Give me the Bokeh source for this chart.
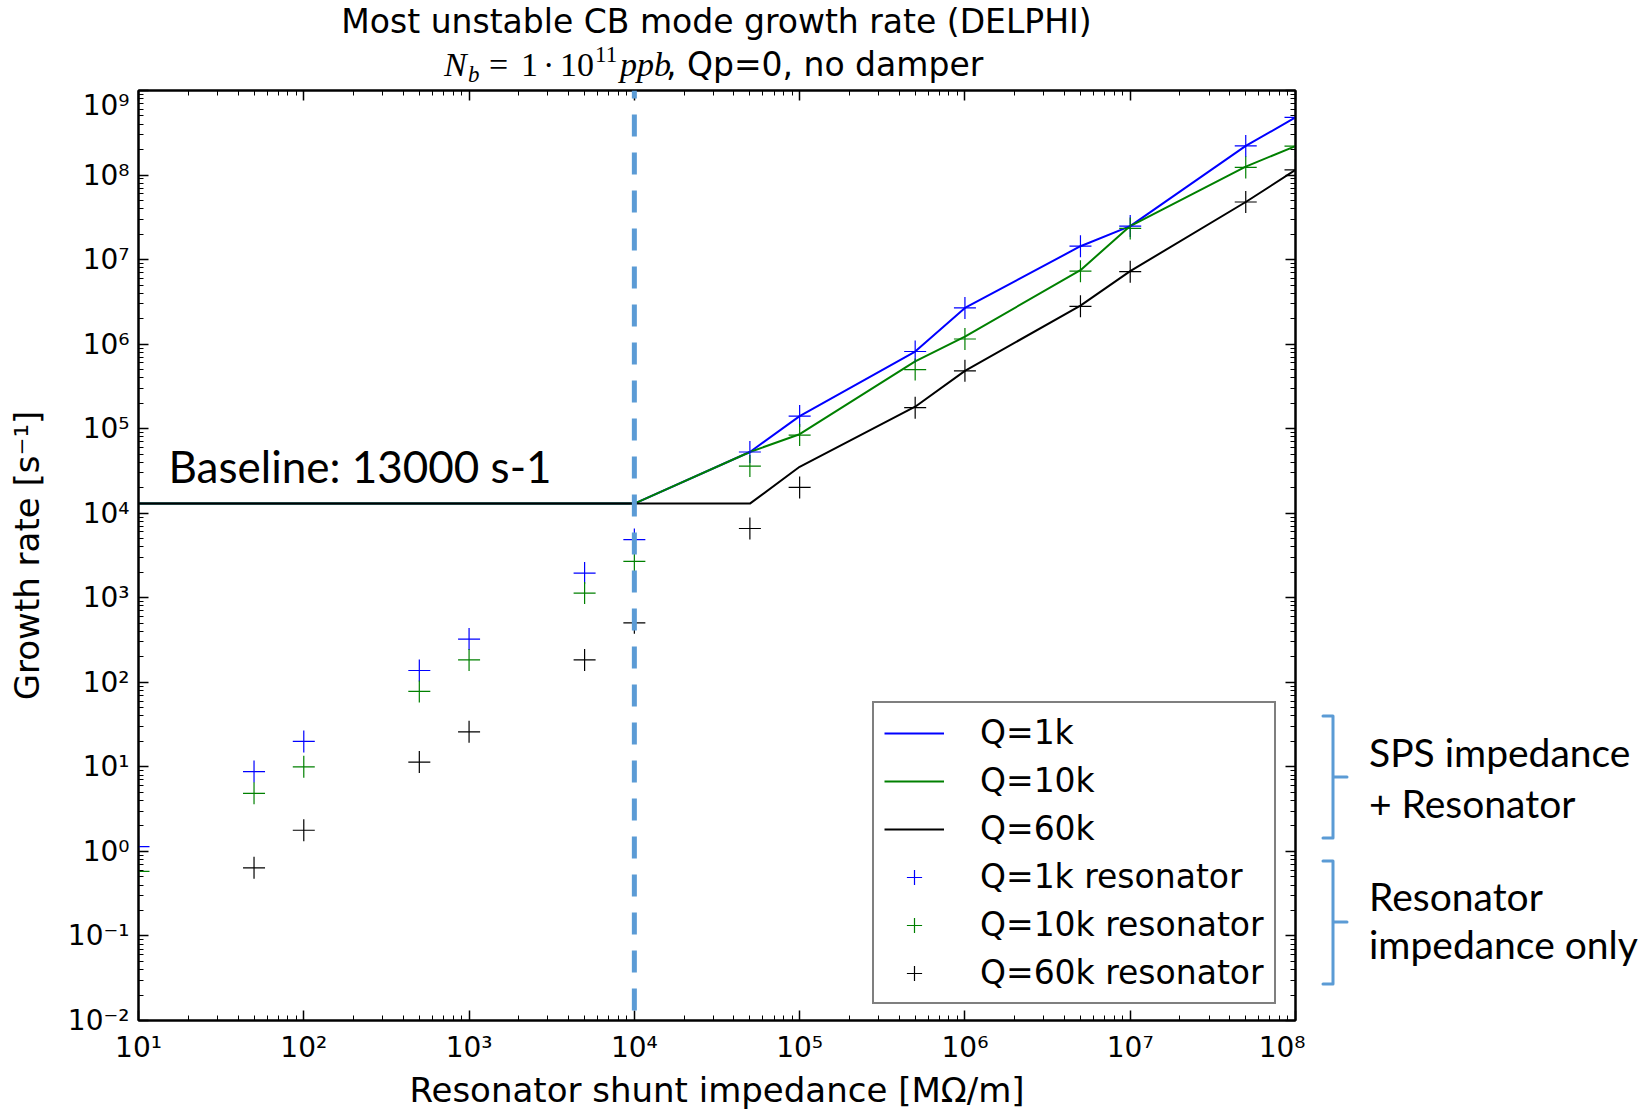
from bokeh.plotting import figure
from bokeh.models import (Range1d, FixedTicker, LogAxis, CustomJSTickFormatter,
                          Legend, LegendItem, Span, Label, Div)
from bokeh.layouts import column, row
from bokeh.embed import file_html
from bokeh.resources import INLINE

# ---------------- data ----------------
shunt_impedance = [10, 50, 100, 500, 1000, 5000, 1e4, 5e4, 1e5, 5e5, 1e6, 5e6, 1e7, 5e7, 1e8]
shunt_impedance_q60k_res = [50, 100, 500, 1000, 5000, 1e4, 5e4, 1e5, 5e5, 1e6, 5e6, 1e7, 5e7, 1e8]

# SPS impedance + resonator (lines)
sps_q1k = [13000, 13000, 13000, 13000, 13000, 13000, 13000,
           53000, 141000, 818000, 2.68e6, 1.44e7, 2.49e7, 2.21e8, 4.8e8]
sps_q10k = [13000, 13000, 13000, 13000, 13000, 13000, 13000,
            53000, 86000, 624000, 1.23e6, 7.5e6, 2.49e7, 1.26e8, 2.2e8]
sps_q60k = [13000, 13000, 13000, 13000, 13000, 13000, 13000,
            13000, 35400, 182000, 483000, 2.86e6, 7.3e6, 4.8e7, 1.15e8]

# resonator impedance only (markers)
res_q1k = [1.14, 8.8, 20, 138, 325, 1960, 4880, 53000, 141000, 818000,
           2.68e6, 1.44e7, 2.49e7, 2.21e8, 4.8e8]
res_q10k = [0.58, 4.86, 10.0, 78, 184, 1135, 2700, 36100, 84000, 500000,
            1.15e6, 7.3e6, 2.34e7, 1.23e8, 2.2e8]
res_q60k = [0.64, 1.78, 11.4, 26, 184, 505, 6600, 20200, 177000, 483000,
            2.8e6, 7.2e6, 4.8e7, 1.15e8]

series_labels = ["Q=1k", "Q=10k", "Q=60k",
                 "Q=1k resonator", "Q=10k resonator", "Q=60k resonator"]
x_decades = [1, 2, 3, 4, 5, 6, 7, 8]
y_decades = [-2, -1, 0, 1, 2, 3, 4, 5, 6, 7, 8, 9]
threshold_impedance = 1e4
baseline_text = "Baseline: 13000 s-1"
title_text = "Most unstable CB mode growth rate (DELPHI)"
group_texts = ["SPS impedance", "+ Resonator", "Resonator", "impedance only"]

# ---------------- geometry ----------------
W, H = 1649, 1113
TITLE_H = 88
FIG_W = 1305
FL, FR, FT, FB = 138, 1295, 90, 1020  # frame edges in page px
FIG_H = H - TITLE_H

p = figure(width=FIG_W, height=FIG_H, x_axis_type="log", y_axis_type="log",
           x_range=Range1d(10, 1e8), y_range=Range1d(1e-2, 1e9),
           output_backend="svg", toolbar_location=None,
           min_border_left=FL, min_border_right=FIG_W - FR,
           min_border_top=FT - TITLE_H, min_border_bottom=H - FB)
p.xgrid.visible = False
p.ygrid.visible = False
p.outline_line_color = "black"
p.outline_line_width = 2
p.background_fill_color = "white"
p.border_fill_color = "white"

def ticker(decades):
    major = [10.0 ** d for d in decades]
    minor = [m * 10.0 ** d for d in decades[:-1] for m in range(2, 10)]
    return FixedTicker(ticks=major, minor_ticks=minor)

sup_code = """
const sup = {"-": "\u207b", "0": "\u2070", "1": "\u00b9", "2": "\u00b2", "3": "\u00b3",
             "4": "\u2074", "5": "\u2075", "6": "\u2076", "7": "\u2077", "8": "\u2078", "9": "\u2079"};
const e = Math.round(Math.log10(tick));
return "10" + String(e).split("").map(c => sup[c]).join("");
"""
blank_code = 'return "";'

def style_axis(ax, decades, labels):
    ax.ticker = ticker(decades)
    ax.formatter = CustomJSTickFormatter(code=sup_code if labels else blank_code)
    ax.major_tick_in = 10
    ax.major_tick_out = 0
    ax.minor_tick_in = 5
    ax.minor_tick_out = 0
    ax.axis_line_color = "black"
    ax.axis_line_width = 2
    ax.major_tick_line_color = "black"
    ax.major_tick_line_width = 1.5
    ax.minor_tick_line_color = "black"
    ax.minor_tick_line_width = 1
    ax.major_label_text_font = "DejaVu Sans"
    ax.major_label_text_font_size = "28px" if labels else "0px"
    ax.major_label_standoff = 10 if labels else 0
    ax.major_label_text_color = "black"
    ax.axis_label_text_font = "DejaVu Sans"
    ax.axis_label_text_font_size = "34px"
    ax.axis_label_text_font_style = "normal"
    ax.axis_label_text_color = "black"

xa = p.below[0]
ya = p.left[0]
style_axis(xa, x_decades, True)
style_axis(ya, y_decades, True)
xa.axis_label = "Resonator shunt impedance [M\u03a9/m]"
xa.axis_label_standoff = 3
ya.major_label_standoff = 9
ya.axis_label = "Growth rate [s\u207b\u00b9]"
ya.axis_label_standoff = 18

top_ax = LogAxis()
style_axis(top_ax, x_decades, False)
p.add_layout(top_ax, "above")
right_ax = LogAxis()
style_axis(right_ax, y_decades, False)
p.add_layout(right_ax, "right")

# ---------------- glyphs ----------------
colors = ["#0000ff", "#008000", "#000000"]
l1 = p.line(shunt_impedance, sps_q1k, line_color=colors[0], line_width=2)
l2 = p.line(shunt_impedance, sps_q10k, line_color=colors[1], line_width=2)
l3 = p.line(shunt_impedance, sps_q60k, line_color=colors[2], line_width=2)
s1 = p.scatter(shunt_impedance, res_q1k, marker="cross", size=22,
               line_color=colors[0], line_width=1.2)
s2 = p.scatter(shunt_impedance, res_q10k, marker="cross", size=22,
               line_color=colors[1], line_width=1.2)
s3 = p.scatter(shunt_impedance_q60k_res, res_q60k, marker="cross", size=22,
               line_color=colors[2], line_width=1.2)

p.add_layout(Span(location=threshold_impedance, dimension="height",
                  line_color="#5B9BD5", line_width=5, line_dash="22 16",
                  line_dash_offset=14))

legend = Legend(items=[LegendItem(label=lab, renderers=[r]) for lab, r in
                       zip(series_labels, [l1, l2, l3, s1, s2, s3])],
                location=(734, 16), padding=10, spacing=9,
                glyph_width=60, glyph_height=38, label_height=38,
                label_standoff=36, margin=0,
                label_text_font="DejaVu Sans", label_text_font_size="33px",
                label_text_color="black",
                border_line_color="black", border_line_width=2,
                background_fill_color="white", background_fill_alpha=1)
p.add_layout(legend, "center")

p.add_layout(Label(x=168 - FL, y=FB - 465, x_units="screen", y_units="screen",
                   text=baseline_text, text_font="Lato", text_font_size="44px",
                   text_baseline="alphabetic", text_color="black"))

# ---------------- title block (SVG text in a Div above the figure) ----------------
def t(x, y, s, size, family="DejaVu Sans", style="normal", anchor="start"):
    css = (f"font-family:'{family}';font-size:{size}px;font-style:{style};"
           f"font-weight:normal;text-anchor:{anchor};fill:#000")
    return f'<text x="{x}" y="{y}" style="{css}">{s}</text>'

serif = "Liberation Serif"
title_svg = (
    f'<svg xmlns="http://www.w3.org/2000/svg" width="{W}" height="{TITLE_H}" style="display:block">'
    + t((FL + FR) / 2, 33, title_text, 33, anchor="middle")
    + t(444, 76, "N", 34, serif, "italic")
    + t(468, 82, "b", 23, serif, "italic")
    + t(489, 76, "=", 34, serif)
    + t(521, 76, "1", 34, serif)
    + t(543, 76, "\u00b7", 34, serif)
    + t(560, 76, "10", 34, serif)
    + t(595, 62, "11", 23, serif)
    + t(620, 76, "ppb", 34, serif, "italic")
    + t(666, 76, ", Qp=0, no damper", 33)
    + '</svg>')
title_div = Div(text=title_svg, width=W, height=TITLE_H,
                styles={"margin": "0", "padding": "0"})

# ---------------- right-side group annotations ----------------
RX, RY = FIG_W, TITLE_H   # page offset of the right div
def br(top, mid, bot):
    x0, x1, x2 = 1323 - RX, 1333 - RX, 1347 - RX
    return (f'<path d="M{x0} {top-RY} H{x1} V{bot-RY} H{x0} M{x1} {mid-RY} H{x2}" '
            f'fill="none" stroke="#5B9BD5" stroke-width="3" stroke-linejoin="round" '
            f'stroke-linecap="round"/>')

right_svg = (
    f'<svg xmlns="http://www.w3.org/2000/svg" width="{W - FIG_W}" height="{FIG_H}" style="display:block">'
    + br(716, 777, 838) + br(861, 922, 984)
    + t(1369 - RX, 767 - RY, group_texts[0], 39, "Lato")
    + t(1369 - RX, 818 - RY, group_texts[1], 39, "Lato")
    + t(1369 - RX, 911 - RY, group_texts[2], 39, "Lato")
    + t(1369 - RX, 959 - RY, group_texts[3], 39, "Lato")
    + '</svg>')
right_div = Div(text=right_svg, width=W - FIG_W, height=FIG_H,
                styles={"margin": "0", "padding": "0"})

layout = column(title_div, row(p, right_div, spacing=0), spacing=0)

open("out.html", "w").write(file_html(layout, INLINE))
